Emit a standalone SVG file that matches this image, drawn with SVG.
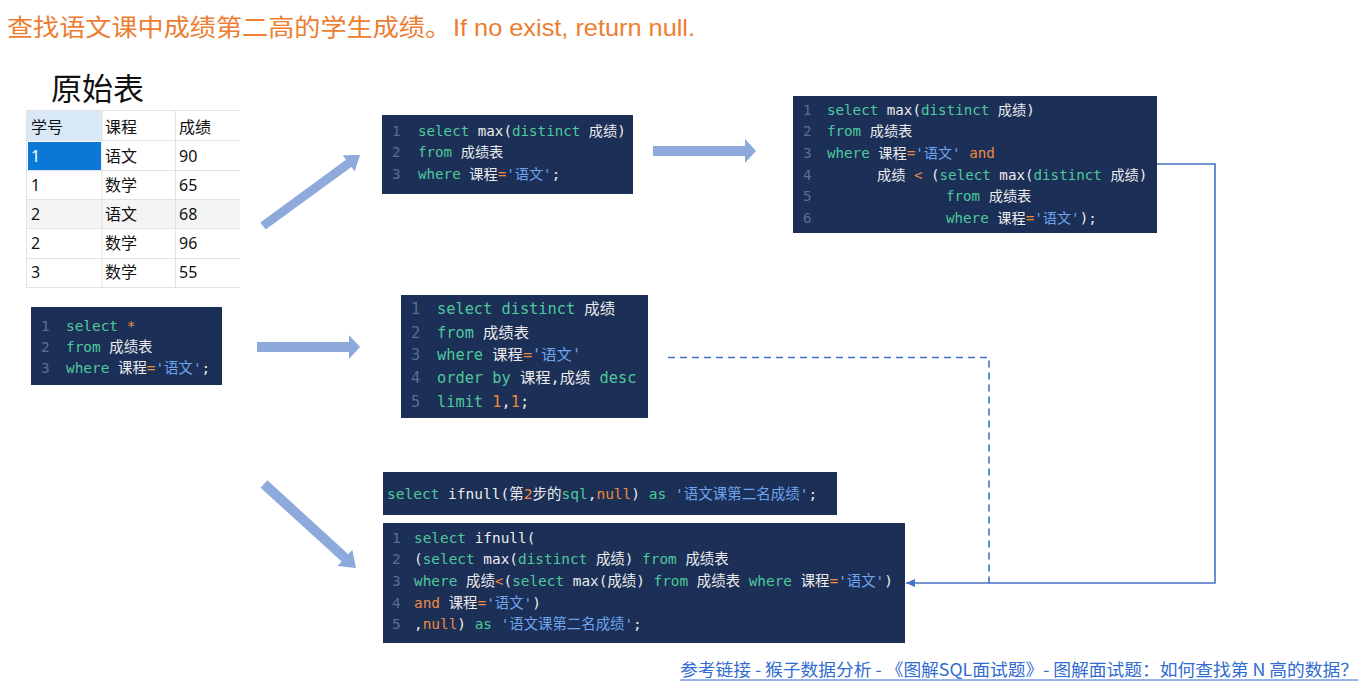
<svg xmlns="http://www.w3.org/2000/svg" width="1363" height="683" viewBox="0 0 1363 683">
<style>
.code{font-family:"DejaVu Sans Mono","Noto Sans CJK SC",monospace;}
.box{fill:#1b2f57;}
.k{fill:#4fc99b;}
.w{fill:#ececec;}
.s{fill:#6fa3ec;}
.o{fill:#ee8a3c;}
.n{fill:#5b6e8c;}
.tb{font-family:"Noto Sans","Noto Sans CJK SC",sans-serif;font-size:16px;fill:#111;}
.grid{stroke:#e2e2e2;stroke-width:1;}
.bigarrow{fill:#8eaadc;}
.conn{fill:none;stroke:#4472c4;stroke-width:1.6;}
</style>
<defs>
<marker id="ah" markerWidth="10" markerHeight="10" refX="9" refY="5" orient="auto" markerUnits="userSpaceOnUse">
<path d="M0,1 L9,5 L0,9 Z" fill="#4472c4"/>
</marker>
</defs>
<rect width="1363" height="683" fill="#ffffff"/>

<g id="title">
<text x="7" y="36" font-family="Noto Sans CJK SC,sans-serif" font-size="24" fill="#ed7d31" textLength="444" lengthAdjust="spacingAndGlyphs">查找语文课中成绩第二高的学生成绩。</text>
<text x="453" y="36" font-family="Liberation Sans,Arial,sans-serif" font-size="24" fill="#ed7d31" textLength="242" lengthAdjust="spacingAndGlyphs">If no exist, return null.</text>
</g>

<g id="table">
<text x="51" y="100" font-family="Noto Sans CJK SC,sans-serif" font-size="31" fill="#111">原始表</text>
<rect x="26" y="110" width="214" height="178" fill="#ffffff"/>
<rect x="27" y="111" width="75" height="29" fill="#d9e8f6"/>
<rect x="27" y="199" width="213" height="29" fill="#f4f4f4"/>
<rect x="28" y="142" width="73" height="28" fill="#0a78d6"/>
<g class="grid">
<line x1="26" y1="110.5" x2="240" y2="110.5"/>
<line x1="26" y1="140.5" x2="240" y2="140.5"/>
<line x1="26" y1="170.5" x2="240" y2="170.5"/>
<line x1="26" y1="199.5" x2="240" y2="199.5"/>
<line x1="26" y1="228.5" x2="240" y2="228.5"/>
<line x1="26" y1="258.5" x2="240" y2="258.5"/>
<line x1="26" y1="287.5" x2="240" y2="287.5"/>
<line x1="26.5" y1="110" x2="26.5" y2="288"/>
<line x1="102" y1="110" x2="102" y2="288"/>
<line x1="175.5" y1="110" x2="175.5" y2="288"/>
</g>
<text class="tb" x="31" y="133">学号</text>
<text class="tb" x="105" y="133">课程</text>
<text class="tb" x="179" y="133">成绩</text>
<text class="tb" x="31" y="162" style="fill:#ffffff">1</text>
<text class="tb" x="105" y="162">语文</text>
<text class="tb" x="179" y="162">90</text>
<text class="tb" x="31" y="191">1</text>
<text class="tb" x="105" y="191">数学</text>
<text class="tb" x="179" y="191">65</text>
<text class="tb" x="31" y="220">2</text>
<text class="tb" x="105" y="220">语文</text>
<text class="tb" x="179" y="220">68</text>
<text class="tb" x="31" y="249">2</text>
<text class="tb" x="105" y="249">数学</text>
<text class="tb" x="179" y="249">96</text>
<text class="tb" x="31" y="278">3</text>
<text class="tb" x="105" y="278">数学</text>
<text class="tb" x="179" y="278">55</text>
</g>

<g id="code1" class="code" font-size="14.4">
<rect class="box" x="31" y="307" width="191" height="78"/>
<text class="n" x="41" y="331">1</text>
<text class="n" x="41" y="352">2</text>
<text class="n" x="41" y="373">3</text>
<text x="66" y="331" xml:space="preserve"><tspan class="k">select</tspan><tspan class="w"> </tspan><tspan class="o">*</tspan></text>
<text x="66" y="352" xml:space="preserve"><tspan class="k">from</tspan><tspan class="w"> 成绩表</tspan></text>
<text x="66" y="373" xml:space="preserve"><tspan class="k">where</tspan><tspan class="w"> 课程</tspan><tspan class="o">=</tspan><tspan class="s">'语文'</tspan><tspan class="w">;</tspan></text>
</g>

<g id="code2" class="code" font-size="14.2">
<rect class="box" x="382" y="115" width="251" height="79"/>
<text class="n" x="392" y="136">1</text>
<text class="n" x="392" y="157">2</text>
<text class="n" x="392" y="179">3</text>
<text x="418" y="136" xml:space="preserve"><tspan class="k">select</tspan><tspan class="w"> max(</tspan><tspan class="k">distinct</tspan><tspan class="w"> 成绩)</tspan></text>
<text x="418" y="157" xml:space="preserve"><tspan class="k">from</tspan><tspan class="w"> 成绩表</tspan></text>
<text x="418" y="179" xml:space="preserve"><tspan class="k">where</tspan><tspan class="w"> 课程</tspan><tspan class="o">=</tspan><tspan class="s">'语文'</tspan><tspan class="w">;</tspan></text>
</g>

<g id="code3" class="code" font-size="14.2">
<rect class="box" x="793" y="96" width="364" height="137"/>
<text class="n" x="803" y="115">1</text>
<text class="n" x="803" y="136">2</text>
<text class="n" x="803" y="158">3</text>
<text class="n" x="803" y="180">4</text>
<text class="n" x="803" y="201">5</text>
<text class="n" x="803" y="223">6</text>
<text x="827" y="115" xml:space="preserve"><tspan class="k">select</tspan><tspan class="w"> max(</tspan><tspan class="k">distinct</tspan><tspan class="w"> 成绩)</tspan></text>
<text x="827" y="136" xml:space="preserve"><tspan class="k">from</tspan><tspan class="w"> 成绩表</tspan></text>
<text x="827" y="158" xml:space="preserve"><tspan class="k">where</tspan><tspan class="w"> 课程</tspan><tspan class="o">=</tspan><tspan class="s">'语文'</tspan><tspan class="w"> </tspan><tspan class="o">and</tspan></text>
<text x="877" y="180" xml:space="preserve"><tspan class="w">成绩 </tspan><tspan class="o">&lt;</tspan><tspan class="w"> (</tspan><tspan class="k">select</tspan><tspan class="w"> max(</tspan><tspan class="k">distinct</tspan><tspan class="w"> 成绩)</tspan></text>
<text x="946" y="201" xml:space="preserve"><tspan class="k">from</tspan><tspan class="w"> 成绩表</tspan></text>
<text x="946" y="223" xml:space="preserve"><tspan class="k">where</tspan><tspan class="w"> 课程</tspan><tspan class="o">=</tspan><tspan class="s">'语文'</tspan><tspan class="w">);</tspan></text>
</g>

<g id="code4" class="code" font-size="15.3">
<rect class="box" x="401" y="295" width="247" height="123"/>
<text class="n" x="411" y="314">1</text>
<text class="n" x="411" y="338">2</text>
<text class="n" x="411" y="360">3</text>
<text class="n" x="411" y="383">4</text>
<text class="n" x="411" y="407">5</text>
<text x="437" y="314" xml:space="preserve"><tspan class="k">select distinct</tspan><tspan class="w"> 成绩</tspan></text>
<text x="437" y="338" xml:space="preserve"><tspan class="k">from</tspan><tspan class="w"> 成绩表</tspan></text>
<text x="437" y="360" xml:space="preserve"><tspan class="k">where</tspan><tspan class="w"> 课程</tspan><tspan class="o">=</tspan><tspan class="s">'语文'</tspan></text>
<text x="437" y="383" xml:space="preserve"><tspan class="k">order by</tspan><tspan class="w"> 课程,成绩 </tspan><tspan class="k">desc</tspan></text>
<text x="437" y="407" xml:space="preserve"><tspan class="k">limit</tspan><tspan class="w"> </tspan><tspan class="o">1</tspan><tspan class="w">,</tspan><tspan class="o">1</tspan><tspan class="w">;</tspan></text>
</g>

<g id="code5" class="code" font-size="14.5">
<rect class="box" x="383" y="472" width="454" height="43"/>
<text x="387" y="499" xml:space="preserve"><tspan class="k">select</tspan><tspan class="w"> ifnull(第</tspan><tspan class="o">2</tspan><tspan class="w">步的</tspan><tspan class="k">sql</tspan><tspan class="w">,</tspan><tspan class="o">null</tspan><tspan class="w">) </tspan><tspan class="k">as</tspan><tspan class="s"> '语文课第二名成绩'</tspan><tspan class="w">;</tspan></text>
</g>

<g id="code6" class="code" font-size="14.4">
<rect class="box" x="383" y="523" width="522" height="120"/>
<text class="n" x="392" y="543">1</text>
<text class="n" x="392" y="564">2</text>
<text class="n" x="392" y="586">3</text>
<text class="n" x="392" y="608">4</text>
<text class="n" x="392" y="629">5</text>
<text x="414" y="543" xml:space="preserve"><tspan class="k">select</tspan><tspan class="w"> ifnull(</tspan></text>
<text x="414" y="564" xml:space="preserve"><tspan class="w">(</tspan><tspan class="k">select</tspan><tspan class="w"> max(</tspan><tspan class="k">distinct</tspan><tspan class="w"> 成绩) </tspan><tspan class="k">from</tspan><tspan class="w"> 成绩表</tspan></text>
<text x="414" y="586" xml:space="preserve"><tspan class="k">where</tspan><tspan class="w"> 成绩</tspan><tspan class="o">&lt;</tspan><tspan class="w">(</tspan><tspan class="k">select</tspan><tspan class="w"> max(成绩) </tspan><tspan class="k">from</tspan><tspan class="w"> 成绩表 </tspan><tspan class="k">where</tspan><tspan class="w"> 课程</tspan><tspan class="o">=</tspan><tspan class="s">'语文'</tspan><tspan class="w">)</tspan></text>
<text x="414" y="608" xml:space="preserve"><tspan class="o">and</tspan><tspan class="w"> 课程</tspan><tspan class="o">=</tspan><tspan class="s">'语文'</tspan><tspan class="w">)</tspan></text>
<text x="414" y="629" xml:space="preserve"><tspan class="w">,</tspan><tspan class="o">null</tspan><tspan class="w">) </tspan><tspan class="k">as</tspan><tspan class="s"> '语文课第二名成绩'</tspan><tspan class="w">;</tspan></text>
</g>

<g id="connectors">
<polygon class="bigarrow" points="265.7,229.6 351.4,166.9 354.6,171.4 360,155 342.8,155.2 346.0,159.7 260.3,222.4"/>
<polygon class="bigarrow" points="257,342 349,342 349,335 360,347 349,359 349,352 257,352"/>
<polygon class="bigarrow" points="653,146 745,146 745,139 756,151 745,163 745,156 653,156"/>
<polygon class="bigarrow" points="260.6,487.7 341.6,561.6 337.5,566.0 356,568 352.3,549.8 348.3,554.2 267.4,480.3"/>
<polyline class="conn" points="1157,164 1215,164 1215,583 906,583" marker-end="url(#ah)"/>
<polyline class="conn" points="668,357.5 989,357.5 989,583" stroke-dasharray="7,5"/>
</g>

<g id="footer">
<text x="680" y="676" font-family="Noto Sans CJK SC,sans-serif" font-size="17" fill="#2f6bd0" textLength="678" lengthAdjust="spacingAndGlyphs">参考链接 - 猴子数据分析 - 《图解SQL面试题》- 图解面试题：如何查找第 N 高的数据？</text>
<line x1="680" y1="680" x2="1358" y2="680" stroke="#2f6bd0" stroke-width="1"/>
</g>
</svg>
